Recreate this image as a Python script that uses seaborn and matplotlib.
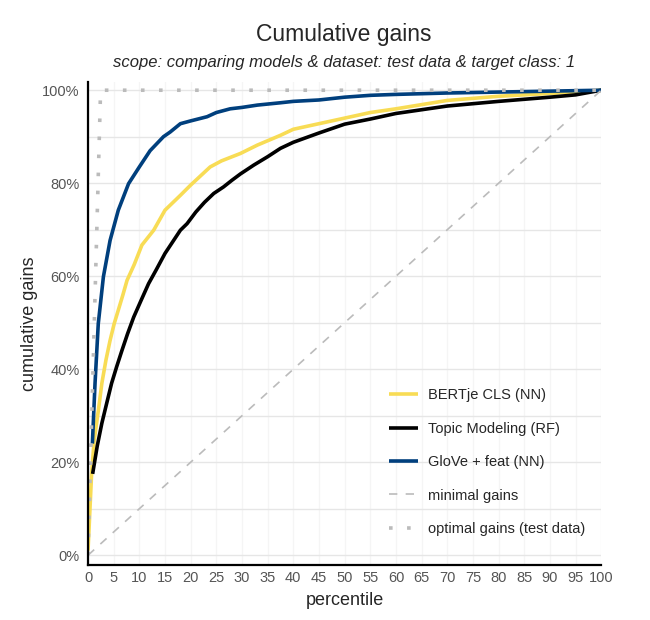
import numpy as np
import pandas as pd
import matplotlib
matplotlib.use("Agg")
import matplotlib.pyplot as plt
from matplotlib.ticker import MultipleLocator, FuncFormatter
import seaborn as sns

# ── data (percentile -> cumulative gains in %) ──
bertje_x = [0, 0.3, 0.7, 1.2, 2.0, 2.7, 3.5, 4.3, 5.1, 5.9, 6.8, 7.6, 9.0, 10.5, 12.8,
            15, 18, 20, 23.8, 26, 29.7, 33, 37.5, 40, 45, 50, 55, 60, 70, 80, 90, 100]
bertje_y = [1, 8, 17.6, 24.7, 31, 37, 42, 46.2, 49.8, 52.7, 56, 59.1, 62.5, 66.7, 69.9,
            74.2, 77.4, 79.6, 83.5, 84.8, 86.4, 88.2, 90.3, 91.6, 92.8, 94.0, 95.2, 96.0,
            97.8, 98.7, 99.3, 100]

topic_x = [0.9, 1.8, 2.7, 3.6, 4.6, 5.6, 6.6, 7.7, 8.9, 10.3, 11.8, 13.3, 15, 16.5, 18,
           19.3, 21, 22.7, 24.5, 26.4, 28, 29.7, 32.3, 35, 37.5, 40, 45, 50, 55, 60, 70,
           80, 90, 95, 100]
topic_y = [17.5, 23.5, 28.4, 32.5, 37, 40.6, 44, 47.6, 51.2, 54.7, 58.4, 61.4, 64.9, 67.4,
           69.9, 71.3, 73.8, 75.9, 77.8, 79.2, 80.6, 82, 83.9, 85.7, 87.5, 88.8, 90.8,
           92.7, 93.8, 95.0, 96.6, 97.6, 98.5, 99.0, 100]

glove_x = [0.85, 1.37, 2.0, 3.0, 4.3, 5.9, 7.9, 10, 12.1, 14.7, 16, 18, 20, 23.2, 25,
           27.7, 30, 33, 37.5, 40, 45, 50, 55, 60, 70, 80, 90, 100]
glove_y = [24, 37, 49.8, 59.9, 67.7, 74.2, 79.9, 83.5, 87, 90, 91, 92.8, 93.4, 94.3, 95.2,
           96, 96.3, 96.8, 97.3, 97.6, 97.9, 98.5, 98.9, 99.1, 99.4, 99.6, 99.8, 100]

minimal_x = [0, 100]
minimal_y = [0, 100]

optimal_x = [0, 2.45, 100]
optimal_y = [0, 100, 100]

models = ["BERTje CLS (NN)", "Topic Modeling (RF)", "GloVe + feat (NN)"]
model_x = [bertje_x, topic_x, glove_x]
model_y = [bertje_y, topic_y, glove_y]
model_colors = ["#f8dc55", "#000000", "#003f7d"]

sns.set_theme(style="white")
plt.rcParams["font.family"] = ["Liberation Sans", "DejaVu Sans"]

fig, ax = plt.subplots(figsize=(6.5, 6.2), dpi=100)
fig.subplots_adjust(left=0.1354, right=0.925, bottom=0.0887, top=0.868)

for name, xs, ys, col in zip(models, model_x, model_y, model_colors):
    d = pd.DataFrame({"percentile": xs, "gain": ys})
    sns.lineplot(data=d, x="percentile", y="gain", color=col, lw=2.6,
                 label=name, ax=ax, sort=False)

sns.lineplot(x=minimal_x, y=minimal_y, color="#bbbbbb", lw=1.2,
             linestyle=(0, (5, 5)), label="minimal gains", ax=ax)
sns.lineplot(x=optimal_x, y=optimal_y, color="#bbbbbb", lw=2.6,
             linestyle=(0, (1, 4)), label="optimal gains (test data)", ax=ax)
for l in ax.lines:
    l.set_solid_capstyle("butt")
    l.set_dash_capstyle("butt")

ax.set_xlim(0, 100)
ax.set_ylim(-2.1, 101.8)
ax.xaxis.set_major_locator(MultipleLocator(5))
ax.yaxis.set_major_locator(MultipleLocator(20))
ax.yaxis.set_minor_locator(MultipleLocator(10))
ax.yaxis.set_major_formatter(FuncFormatter(lambda v, p: f"{v:.0f}%"))
ax.grid(axis="y", which="both", color="#e6e6e6", lw=1)
ax.grid(axis="x", which="major", color="#f5f5f5", lw=1)
ax.set_axisbelow(True)

ax.tick_params(axis="both", which="both", length=0, labelsize=10.5, labelcolor="#555555")
ax.tick_params(axis="y", pad=6)
ax.tick_params(axis="x", pad=4)
for s in ["top", "right"]:
    ax.spines[s].set_visible(False)
for s in ["left", "bottom"]:
    ax.spines[s].set_color("black")
    ax.spines[s].set_linewidth(1.6)

ax.set_xlabel("percentile", fontsize=13, labelpad=5)
ax.set_ylabel("cumulative gains", fontsize=13, labelpad=3)

fig.text(0.529, 0.944, "Cumulative gains", ha="center", va="center", fontsize=16.5)
fig.text(0.529, 0.9, "scope: comparing models & dataset: test data & target class: 1",
         ha="center", va="center", fontsize=12, style="italic")

ax.legend(loc="lower left", bbox_to_anchor=(0.56, 0.033), frameon=False,
          fontsize=10.5, handlelength=2.0, handletextpad=0.7, labelspacing=1.33)

fig.savefig("out.png", dpi=100)
plt.close(fig)
